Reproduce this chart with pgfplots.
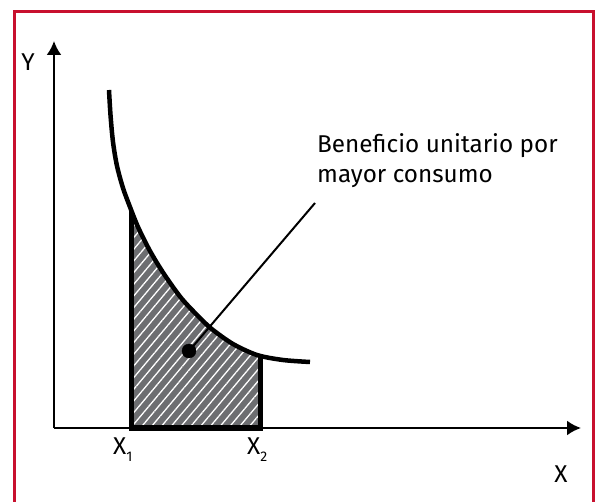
\documentclass[border=0pt]{standalone}
\usepackage{pgfplots}
\pgfplotsset{compat=1.18}
\usepgfplotslibrary{fillbetween}
\usetikzlibrary{patterns.meta,arrows.meta}
\usepackage{fontspec}
\setmainfont{Fira Sans}
\definecolor{framecol}{HTML}{C8102E}
\definecolor{shade}{HTML}{6D6E71}
\newcommand{\lbl}{\fontsize{24.3bp}{30bp}\selectfont}
\newcommand{\subx}[1]{\raisebox{-7bp}{\fontsize{14bp}{14bp}\selectfont #1}}
\begin{document}
\begin{tikzpicture}
\begin{axis}[
  scale only axis, width=527bp, height=387bp,
  xmin=0, xmax=527, ymin=0, ymax=387,
  axis lines=left,
  axis line style={line width=2.4bp, -{Latex[length=14bp,width=15bp]}},
  xtick=\empty, ytick=\empty,
  clip=false,
]
\coordinate (bbSW) at (axis cs:-54,-74);
\coordinate (bbNE) at (axis cs:541,428);
% frame
\draw[framecol, line width=3bp] (axis cs:-39,-90) -- (axis cs:-39,416) -- (axis cs:539,416) -- (axis cs:539,-90);
% curve (named for fill)
\addplot[name path=curve, draw=none, smooth] coordinates {
 (55,338) (56.5,313) (59,286) (63,262) (69,240) (76,221) (84,201) (96,177)
 (110,154) (128,129) (148,108) (159,98) (179,84) (203,73) (229,68) (256,66)};
\addplot[name path=base, draw=none] coordinates {(0,0) (300,0)};
\addplot[fill=shade, draw=none] fill between[of=curve and base, soft clip={domain=77:206}];
\addplot[pattern={Lines[angle=50,distance=7.5bp,line width=1.3bp]}, pattern color=white, draw=none]
  fill between[of=curve and base, soft clip={domain=77:206}];
% region border
\addplot[black, line width=5bp, line join=miter] coordinates {(77,217) (77,0) (206,0) (206,74)};
% demand curve
\addplot[black, line width=4.5bp, smooth] coordinates {
 (55,338) (56.5,313) (59,286) (63,262) (69,240) (76,221) (84,201) (96,177)
 (110,154) (128,129) (148,108) (159,98) (179,84) (203,73) (229,68) (256,66)};
% leader line and dot
\addplot[black, line width=2bp] coordinates {(135,77) (261,225)};
\addplot[black, only marks, mark=*, mark size=7bp] coordinates {(135,77)};
% labels
\node[anchor=base west, inner sep=0pt] at (axis cs:263,275) {\lbl Beneficio unitario por};
\node[anchor=base west, inner sep=0pt] at (axis cs:263,245) {\lbl mayor consumo};
\node[anchor=base, inner sep=0pt] at (axis cs:-26,357) {\lbl Y};
\node[anchor=base, inner sep=0pt] at (axis cs:507,-54) {\lbl X};
\node[anchor=base west, inner sep=0pt] at (axis cs:59,-26) {\lbl X\subx{1}};
\node[anchor=base west, inner sep=0pt] at (axis cs:193,-26) {\lbl X\subx{2}};
\end{axis}
\pgfresetboundingbox
\path (bbSW) rectangle (bbNE);
\end{tikzpicture}
\end{document}
